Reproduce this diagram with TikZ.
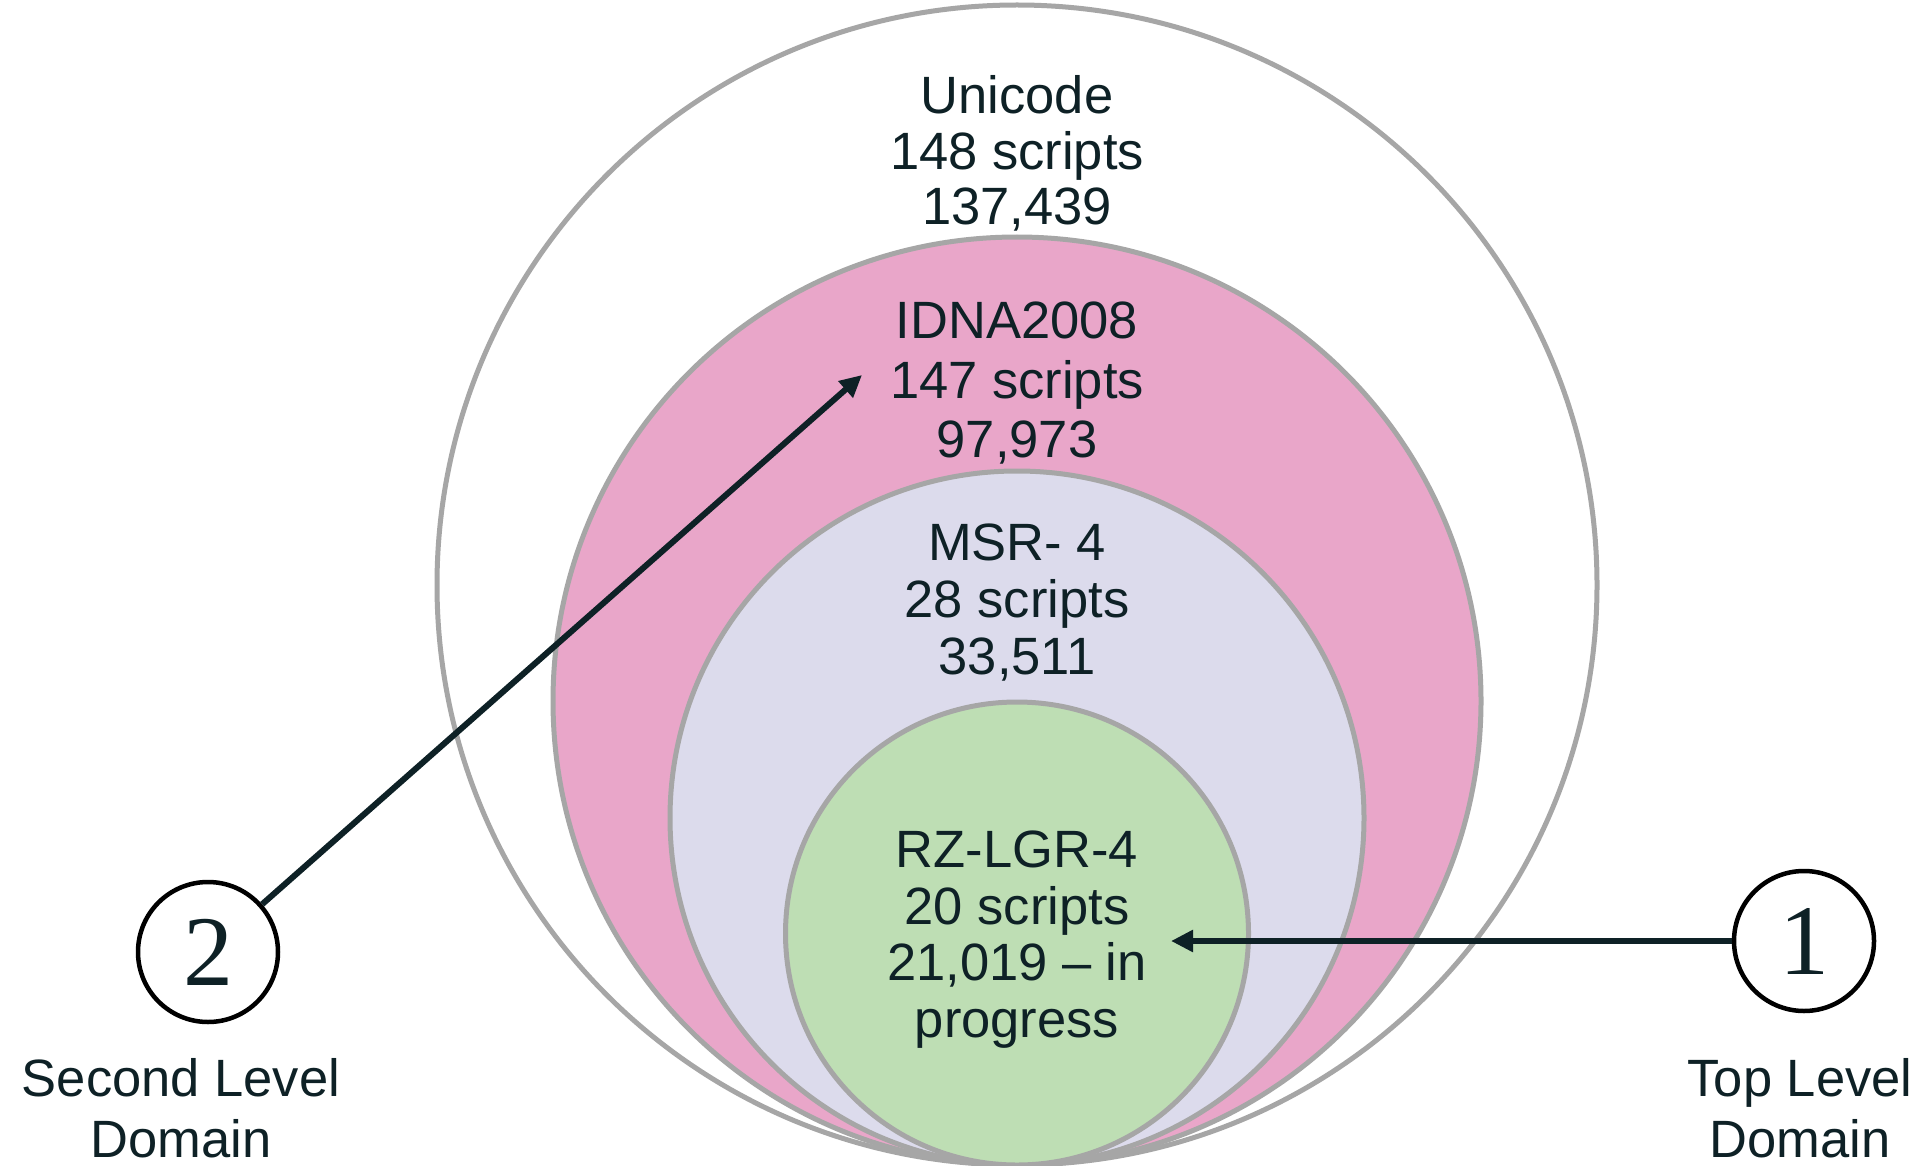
\documentclass[tikz,border=0pt]{standalone}
\usepackage{fontspec}
\setsansfont{Liberation Sans}
\newfontfamily\digitfont{Liberation Serif}
\usetikzlibrary{arrows.meta}
\definecolor{txt}{HTML}{0E2126}
\definecolor{ringc}{HTML}{A6A6A6}
\definecolor{pinkf}{HTML}{E9A6C9}
\definecolor{lavf}{HTML}{DCDBEC}
\definecolor{greenf}{HTML}{BEDEB4}
\begin{document}
\begin{tikzpicture}[x=1pt,y=-1pt,
  ring/.style={draw=ringc, line width=5pt},
  lbl/.style={font=\sffamily\fontsize{52.5}{57}\selectfont, text=txt, align=center, inner sep=0pt},
  num/.style={circle, draw=black, line width=4.5pt, minimum size=140pt, inner sep=0pt, fill=white, font=\digitfont\fontsize{100}{100}\selectfont, text=txt},
  arr/.style={draw=txt, line width=6pt, -{Triangle[length=22pt,width=21pt]}}]
\useasboundingbox (0,0) rectangle (1921,1166);
\fill[white] (0,0) rectangle (1921,1166);
% nested circles
\path[ring, fill=white]  (1017,585)   circle[radius=580pt];
\path[ring, fill=pinkf]  (1017,701)   circle[radius=464pt];
\path[ring, fill=lavf]   (1017,818)   circle[radius=347pt];
\path[ring, fill=greenf] (1017,933.5) circle[radius=231.5pt];
% texts
\node[lbl, font=\sffamily\fontsize{52.5}{55.5}\selectfont] (unicode) at (1017,153.5) {Unicode\\148 scripts\\137,439};
\node[lbl, font=\sffamily\fontsize{52.5}{59.5}\selectfont] (idna) at (1017,383.5) {IDNA2008\\147 scripts\\97,973};
\node[lbl, font=\sffamily\fontsize{52.5}{57}\selectfont] (msr) at (1017,603) {MSR- 4\\28 scripts\\33,511};
\node[lbl, font=\sffamily\fontsize{52.5}{56.7}\selectfont] (rz) at (1017,939.5) {RZ-LGR-4\\20 scripts\\21,019 – in\\progress};
% circled numbers
\node[num] (n2) at (208,952) {2};
\node[num] (n1) at (1804,941) {1};
\node[lbl, font=\sffamily\fontsize{52.5}{61}\selectfont] (sld) at (181,1108) {Second Level\\Domain};
\node[lbl, font=\sffamily\fontsize{52.5}{61}\selectfont] (tld) at (1800,1108) {Top Level\\Domain};
% arrows
\coordinate (tip2) at (862,375);
\coordinate (tip1) at (1171,941);
\draw[arr] (n2) -- (tip2);
\draw[arr] (n1) -- (tip1);
\end{tikzpicture}
\end{document}
